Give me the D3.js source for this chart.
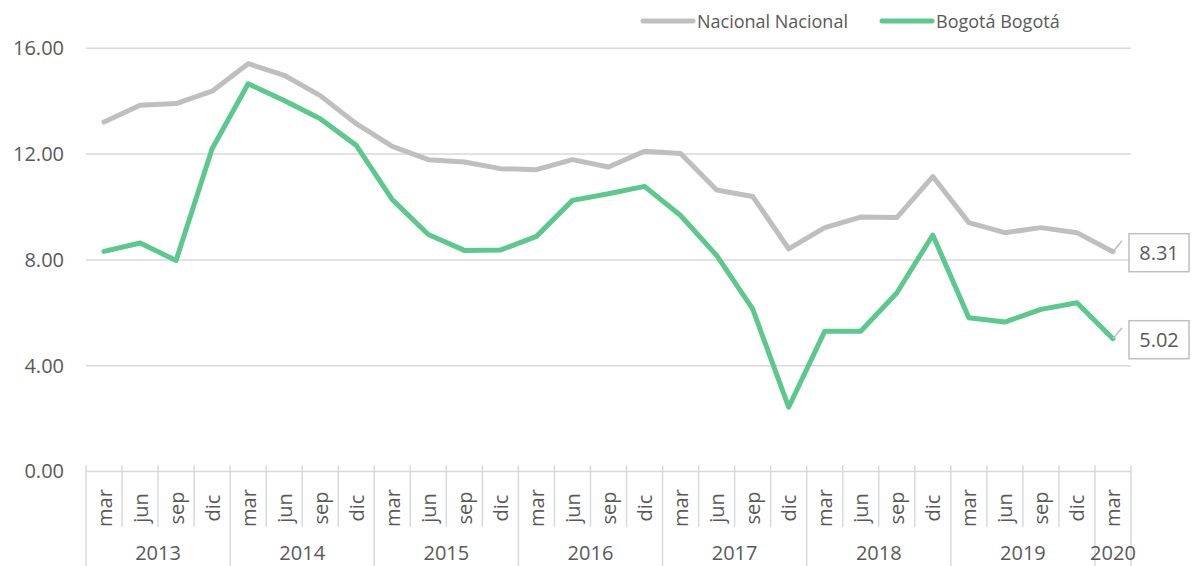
<!DOCTYPE html>
<html>
<head>
<meta charset="utf-8">
<script src="https://cdn.jsdelivr.net/npm/d3@7"></script>
<style>
  body { margin: 0; background: #fff; }
  svg text { font-family: "Open Sans", sans-serif; fill: #595959; }
</style>
</head>
<body>
<svg width="1195" height="566"></svg>
<script>
const months = ['mar','jun','sep','dic'];
const years = ['2013','2014','2015','2016','2017','2018','2019','2020'];
const periods = [
  '2013-mar','2013-jun','2013-sep','2013-dic',
  '2014-mar','2014-jun','2014-sep','2014-dic',
  '2015-mar','2015-jun','2015-sep','2015-dic',
  '2016-mar','2016-jun','2016-sep','2016-dic',
  '2017-mar','2017-jun','2017-sep','2017-dic',
  '2018-mar','2018-jun','2018-sep','2018-dic',
  '2019-mar','2019-jun','2019-sep','2019-dic',
  '2020-mar'
];
const nacional = [13.21, 13.85, 13.91, 14.38, 15.42, 14.98, 14.21, 13.15,
                  12.29, 11.79, 11.70, 11.45, 11.41, 11.79, 11.51, 12.11,
                  12.02, 10.64, 10.40, 8.42, 9.22, 9.62, 9.60, 11.15,
                  9.41, 9.03, 9.22, 9.03, 8.31];
const bogota = [8.32, 8.64, 7.98, 12.20, 14.66, 14.03, 13.34, 12.33,
                10.28, 8.96, 8.36, 8.37, 8.89, 10.25, 10.50, 10.78,
                9.68, 8.17, 6.15, 2.43, 5.30, 5.30, 6.75, 8.94,
                5.81, 5.65, 6.13, 6.38, 5.02];
const yTicks = [0, 4, 8, 12, 16];
const seriesNames = ['Nacional Nacional', 'Bogotá Bogotá'];
const seriesColors = ['#bfbfbf', '#5bc98c'];

const svg = d3.select('svg');
const plotLeft = 86, plotRight = 1131, plotTop = 48.3, plotBottom = 471.5;

const x = d3.scaleBand().domain(periods).range([plotLeft, plotRight]);
const y = d3.scaleLinear().domain([0, 16]).range([plotBottom, plotTop]);
const cx = p => x(p) + x.bandwidth() / 2;

// gridlines
svg.append('g')
  .selectAll('line')
  .data(yTicks.filter(d => d > 0))
  .enter().append('line')
  .attr('x1', plotLeft).attr('x2', plotRight)
  .attr('y1', d => y(d)).attr('y2', d => y(d))
  .attr('stroke', '#d9d9d9').attr('stroke-width', 1.5);

// y axis labels
let gY = svg.append('g')
  .attr('transform', `translate(64,0)`)
  .call(d3.axisLeft(y).tickValues(yTicks).tickFormat(d3.format('.2f')).tickSize(0).tickPadding(0));
gY.select('.domain').remove();
gY.selectAll('text').style('font-size', '20px').attr('fill', '#595959')
  .attr('font-family', null);

// x axis line
svg.append('line')
  .attr('x1', plotLeft).attr('x2', plotRight)
  .attr('y1', plotBottom).attr('y2', plotBottom)
  .attr('stroke', '#d9d9d9').attr('stroke-width', 1.5);

// category boundaries (year boundaries run to the bottom)
const bounds = periods.map(p => x(p)).concat([plotRight]);
svg.append('g')
  .selectAll('line')
  .data(bounds.map((b, i) => ({b, i})))
  .enter().append('line')
  .attr('x1', d => d.b).attr('x2', d => d.b)
  .attr('y1', plotBottom - 6)
  .attr('y2', d => (d.i % 4 === 0 || d.i === periods.length) ? 566 : 527)
  .attr('stroke', '#d9d9d9').attr('stroke-width', 1.5);

// month labels
svg.append('g')
  .selectAll('text')
  .data(periods)
  .enter().append('text')
  .attr('transform', d => `translate(${cx(d)},508) rotate(-90)`)
  .attr('text-anchor', 'middle')
  .attr('dominant-baseline', 'central')
  .style('font-size', '20px')
  .text(d => d.split('-')[1]);

// year labels
svg.append('g')
  .selectAll('text')
  .data(years)
  .enter().append('text')
  .attr('x', yr => {
    let ps = periods.filter(p => p.startsWith(yr));
    return (x(ps[0]) + x(ps[ps.length - 1]) + x.bandwidth()) / 2;
  })
  .attr('y', 560)
  .attr('text-anchor', 'middle')
  .style('font-size', '20px')
  .text(yr => yr);

// lines
const line = d3.line().x((d, i) => cx(periods[i])).y(d => y(d));
[nacional, bogota].forEach((s, k) => {
  svg.append('path')
    .datum(s)
    .attr('d', line)
    .attr('fill', 'none')
    .attr('stroke', seriesColors[k])
    .attr('stroke-width', 5)
    .attr('stroke-linejoin', 'round')
    .attr('stroke-linecap', 'round');
});

// end labels
[nacional, bogota].forEach(s => {
  let v = s[s.length - 1],
      px = cx(periods[periods.length - 1]),
      py = y(v);
  svg.append('line')
    .attr('x1', px).attr('y1', py)
    .attr('x2', px + 9).attr('y2', py - 11)
    .attr('stroke', '#bfbfbf').attr('stroke-width', 1.5);
  svg.append('rect')
    .attr('x', 1129).attr('y', py - 18)
    .attr('width', 60).attr('height', 38)
    .attr('fill', '#fff').attr('stroke', '#bfbfbf').attr('stroke-width', 1.5);
  svg.append('text')
    .attr('x', 1159).attr('y', py + 1)
    .attr('text-anchor', 'middle')
    .attr('dominant-baseline', 'central')
    .style('font-size', '20px')
    .text(d3.format('.2f')(v));
});

// legend
const legendX = [643, 882];
seriesNames.forEach((n, k) => {
  svg.append('line')
    .attr('x1', legendX[k]).attr('x2', legendX[k] + 50)
    .attr('y1', 21).attr('y2', 21)
    .attr('stroke', seriesColors[k]).attr('stroke-width', 5)
    .attr('stroke-linecap', 'round');
  svg.append('text')
    .attr('x', legendX[k] + 54).attr('y', 21)
    .attr('dominant-baseline', 'central')
    .style('font-size', '18px')
    .text(n);
});
</script>
</body>
</html>
